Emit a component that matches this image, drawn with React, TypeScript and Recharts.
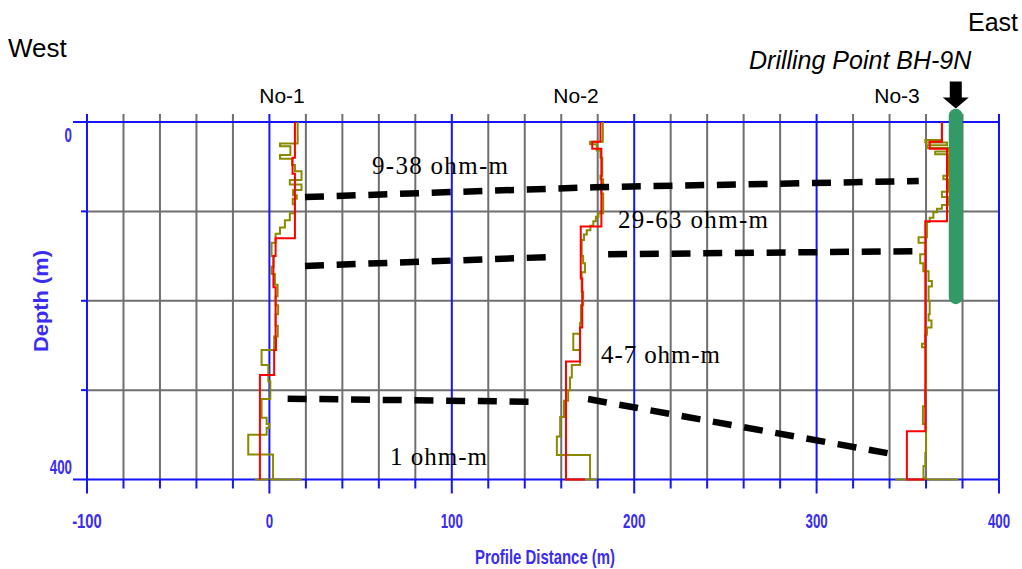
import React from 'react';
import { ComposedChart, Scatter, XAxis, YAxis, ReferenceLine, ReferenceDot } from 'recharts';

// ---------- axes / grid values ----------
const X_TICKS = [-100, -80, -60, -40, -20, 0, 20, 40, 60, 80, 100, 120, 140, 160, 180, 200, 220, 240, 260, 280, 300, 320, 340, 360, 380, 400];
const X_LABELED = [-100, 0, 100, 200, 300, 400];
const X_BLUE = [-100, 0, 100, 200, 300, 400];
const X_GRAY = [-80, -60, -40, -20, 20, 40, 60, 80, 120, 140, 160, 180, 220, 240, 260, 280, 320, 340, 360, 380];
const Y_TICKS = [0, 100, 200, 300, 400];
const Y_LABELED = [0, 400];
const Y_GRAY = [100, 200, 300];
const Y_BLUE = [0, 400];

// ---------- sounding profiles: [depth (m), plotted position (m)] ----------
const NO1_RED = [[0, 14], [40, 12.7], [58, 14], [130, 3.4], [150, 2.2], [185, 3.4], [242, 3.6], [255, 2.6], [283, -5.2]];
const NO1_RED_TAIL: number[][] = [];
const NO1_OLIVE = [[0, 15.5], [24, 5.8], [27, 11.5], [37, 5.8], [41, 12.4], [48, 14], [55, 17.6], [65, 11.2], [70, 17.6], [76, 13], [82, 15], [86, 12.8], [92, 14], [102, 11.2], [110, 8.5], [118, 5.8], [125, 3.4], [135, 1.2], [150, 2.3], [162, 1.2], [170, 3.0], [182, 4.5], [195, 3.4], [205, 4.8], [215, 3.4], [228, 4.6], [240, 2.6], [255, -4.3], [272, -0.6], [290, 0.5], [310, -4.3], [331, -1.5], [338, 0], [342, -1.5], [350, -11.6], [372, 2]];
const NO1_OLIVE_TAIL = [[-8, 400], [17.7, 400]];

const NO2_RED = [[0, 181.5], [22, 177], [30, 182], [117, 170.7], [175, 171.5], [230, 170.3], [268, 162.6]];
const NO2_RED_TAIL = [[173, 400]];
const NO2_OLIVE = [[0, 182.8], [22, 175.8], [25, 179.5], [32, 181.5], [40, 182.5], [60, 181.5], [64, 183], [75, 182], [80, 183], [102, 180.4], [106, 179], [111, 177.6], [116, 176], [121, 174], [126, 172.5], [132, 171.2], [150, 172], [158, 173], [168, 171.2], [190, 172], [205, 170.8], [225, 170.3], [237, 166.6], [255, 170.3], [272, 165.8], [286, 164.8], [300, 163.8], [312, 161.5], [330, 159.4], [352, 157.6], [372.5, 175.8]];
const NO2_OLIVE_TAIL = [[162.6, 400], [179.6, 400]];

const NO3_RED = [[0, 368.7], [22, 362], [30, 371.5], [111, 359.6], [346, 349.5]];
const NO3_RED_TAIL = [[359.2, 400]];
const NO3_OLIVE = [[0, 368.7], [20, 359.6], [23, 371.5], [26, 360.5], [29, 372.4], [33, 365], [36, 372.4], [60, 369.5], [64, 372.4], [78, 368.7], [84, 372], [93, 368.7], [97, 366], [101, 364], [107, 362], [112, 360.5], [129, 355.9], [135, 360], [143, 359.6], [148, 356.8], [158, 358.5], [167, 361.4], [178, 363.2], [184, 361.4], [200, 362], [215, 361.4], [222, 363], [230, 360.5], [238, 359.6], [248, 357.8], [252, 360], [270, 360], [300, 359.6], [318, 358.3], [338, 360], [370, 359.6], [385, 358.6], [398, 360]];
const NO3_OLIVE_TAIL = [[343.1, 400], [377.7, 400]];

// ---------- correlation (dashed) lines: [position, depth] ----------
const CORR_A = [[19.5, 84], [178, 73], [356, 66]];
const CORR_B1 = [[19.5, 161], [155, 151]];
const CORR_B2 = [[185.7, 148], [355.8, 144.5]];
const CORR_C1 = [[10, 309.6], [145, 313]];
const CORR_C2 = [[174.7, 310], [341.3, 371.4]];

// ---------- drilling point ----------
const BH_X = 376.3;
const BH_TOP = -7;
const BH_BOTTOM = 196;
const ARROW_DEPTH = -27.4;

// ---------- text ----------
const STATIONS = ['No-1', 'No-2', 'No-3'];
const LAYER_LABELS = ['9-38 ohm-m', '29-63 ohm-m', '4-7 ohm-m', '1 ohm-m'];

const BLUE = '#1414ff';
const AXIS_TEXT = '#3a2cf0';
const GRAY = '#6f6f6f';
const RED = '#ff0000';
const OLIVE = '#8a8a00';
const GREEN = '#339966';

const PLOT_LEFT = 87;
const PLOT_BOTTOM = 479.5;

function steps(bp: number[][], tail: number[][]) {
  const pts: { x: number; y: number }[] = [];
  for (let i = 0; i < bp.length; i++) {
    const [d, v] = bp[i];
    const dNext = i + 1 < bp.length ? bp[i + 1][0] : 400;
    pts.push({ x: v, y: d });
    pts.push({ x: v, y: dNext });
  }
  tail.forEach(([x, y]) => pts.push({ x, y }));
  return pts;
}
const seg = (arr: number[][]) => arr.map(([x, y]) => ({ x, y }));

const NoShape = () => <g />;

const XTick = (props: any) => {
  const { x, payload } = props;
  const v = payload.value as number;
  const major = v % 100 === 0;
  const label = String(v);
  return (
    <g>
      <line x1={x} x2={x} y1={PLOT_BOTTOM} y2={PLOT_BOTTOM + (major ? 14 : 9)} stroke={BLUE} strokeWidth={2} />
      {X_LABELED.includes(v) && (
        <text x={x} y={528} textAnchor="middle" fontFamily="'Liberation Sans', Arial, sans-serif" fontWeight="bold" fontSize={21} fill={AXIS_TEXT}
          textLength={label.length * 7.4} lengthAdjust="spacingAndGlyphs">{label}</text>
      )}
    </g>
  );
};

const YTick = (props: any) => {
  const { y, payload } = props;
  const v = payload.value as number;
  const long = Y_LABELED.includes(v);
  const label = String(v);
  return (
    <g>
      <line x1={PLOT_LEFT - (long ? 14 : 6)} x2={PLOT_LEFT} y1={y} y2={y} stroke={BLUE} strokeWidth={2} />
      {long && (
        <text x={72} y={v === 0 ? y + 20 : y - 6} textAnchor="end" fontFamily="'Liberation Sans', Arial, sans-serif" fontWeight="bold" fontSize={21} fill={AXIS_TEXT}
          textLength={label.length * 7.4} lengthAdjust="spacingAndGlyphs">{label}</text>
      )}
    </g>
  );
};

const ArrowShape = (p: any) => {
  const { cx, cy } = p;
  const pts = [
    [cx - 6, cy - 16], [cx + 6, cy - 16], [cx + 6, cy], [cx + 13, cy], [cx, cy + 11], [cx - 13, cy], [cx - 6, cy],
  ].map((q) => q.join(',')).join(' ');
  return <polygon points={pts} fill="#000" />;
};

export default function App() {
  const dashLine = { stroke: '#000', strokeWidth: 6.5, strokeDasharray: '19 12.7' };
  return (
    <div style={{ position: 'absolute', left: 0, top: 0, width: 1022, height: 569, background: '#fff' }}>
      <ComposedChart width={1022} height={569} margin={{ top: 122, right: 23, bottom: 29.5, left: 27 }}>
        <XAxis type="number" dataKey="x" domain={[-100, 400]} ticks={X_TICKS} interval={0} height={60}
          axisLine={false} tickLine={false} tick={<XTick />} />
        <YAxis type="number" dataKey="y" domain={[0, 400]} reversed ticks={Y_TICKS} interval={0} width={60}
          axisLine={false} tickLine={false} tick={<YTick />} />
        {X_GRAY.map((v) => (
          <ReferenceLine key={'xg' + v} segment={[{ x: v, y: -9 }, { x: v, y: 400 }]} stroke={GRAY} strokeWidth={2} ifOverflow="visible" />
        ))}
        {Y_GRAY.map((v) => (
          <ReferenceLine key={'yg' + v} segment={[{ x: -100, y: v }, { x: 400, y: v }]} stroke={GRAY} strokeWidth={2} ifOverflow="visible" />
        ))}
        {X_BLUE.map((v) => (
          <ReferenceLine key={'xb' + v} segment={[{ x: v, y: -9 }, { x: v, y: 400 }]} stroke={BLUE} strokeWidth={2} ifOverflow="visible" />
        ))}
        {Y_BLUE.map((v) => (
          <ReferenceLine key={'yb' + v} segment={[{ x: -100, y: v }, { x: 400, y: v }]} stroke={BLUE} strokeWidth={2} ifOverflow="visible" />
        ))}

        <Scatter data={steps(NO1_OLIVE, NO1_OLIVE_TAIL)} line={{ stroke: OLIVE, strokeWidth: 2 }} lineType="joint" shape={NoShape} isAnimationActive={false} />
        <Scatter data={steps(NO2_OLIVE, NO2_OLIVE_TAIL)} line={{ stroke: OLIVE, strokeWidth: 2 }} lineType="joint" shape={NoShape} isAnimationActive={false} />
        <Scatter data={steps(NO3_OLIVE, NO3_OLIVE_TAIL)} line={{ stroke: OLIVE, strokeWidth: 2 }} lineType="joint" shape={NoShape} isAnimationActive={false} />
        <Scatter data={steps(NO1_RED, NO1_RED_TAIL)} line={{ stroke: RED, strokeWidth: 2 }} lineType="joint" shape={NoShape} isAnimationActive={false} />
        <Scatter data={steps(NO2_RED, NO2_RED_TAIL)} line={{ stroke: RED, strokeWidth: 2 }} lineType="joint" shape={NoShape} isAnimationActive={false} />
        <Scatter data={steps(NO3_RED, NO3_RED_TAIL)} line={{ stroke: RED, strokeWidth: 2 }} lineType="joint" shape={NoShape} isAnimationActive={false} />

        <Scatter data={seg(CORR_A)} line={dashLine} lineType="joint" shape={NoShape} isAnimationActive={false} />
        <Scatter data={seg(CORR_B1)} line={dashLine} lineType="joint" shape={NoShape} isAnimationActive={false} />
        <Scatter data={seg(CORR_B2)} line={dashLine} lineType="joint" shape={NoShape} isAnimationActive={false} />
        <Scatter data={seg(CORR_C1)} line={dashLine} lineType="joint" shape={NoShape} isAnimationActive={false} />
        <Scatter data={seg(CORR_C2)} line={dashLine} lineType="joint" shape={NoShape} isAnimationActive={false} />

        <ReferenceLine segment={[{ x: BH_X, y: BH_TOP }, { x: BH_X, y: BH_BOTTOM }]} stroke={GREEN} strokeWidth={14} strokeLinecap="round" ifOverflow="visible" />
        <ReferenceDot x={BH_X} y={ARROW_DEPTH} r={1} shape={ArrowShape} ifOverflow="visible" />
      </ComposedChart>

      <svg width={1022} height={569} style={{ position: 'absolute', left: 0, top: 0, pointerEvents: 'none' }}>
        <g fontFamily="'Liberation Sans', Arial, sans-serif" fill="#000">
          <text x={8} y={57} fontSize={26}>West</text>
          <text x={968} y={31} fontSize={25}>East</text>
          <text x={749} y={69} fontSize={25} fontStyle="italic">Drilling Point BH-9N</text>
          <text x={282} y={103} fontSize={21} textAnchor="middle">{STATIONS[0]}</text>
          <text x={576} y={103} fontSize={21} textAnchor="middle">{STATIONS[1]}</text>
          <text x={897} y={103} fontSize={21} textAnchor="middle">{STATIONS[2]}</text>
        </g>
        <g fontFamily="'Liberation Serif', 'Times New Roman', serif" fill="#000" fontSize={25}>
          <text x={372} y={174} textLength={136} lengthAdjust="spacing">{LAYER_LABELS[0]}</text>
          <text x={618} y={228} textLength={150} lengthAdjust="spacing">{LAYER_LABELS[1]}</text>
          <text x={601} y={363} textLength={119} lengthAdjust="spacing">{LAYER_LABELS[2]}</text>
          <text x={390} y={465} textLength={97} lengthAdjust="spacing">{LAYER_LABELS[3]}</text>
        </g>
        <g fontFamily="'Liberation Sans', Arial, sans-serif" fontWeight="bold" fill={AXIS_TEXT} fontSize={21}>
          <text x={545} y={564} textAnchor="middle" textLength={140} lengthAdjust="spacingAndGlyphs">Profile Distance (m)</text>
          <text x={0} y={0} textAnchor="middle" textLength={102} lengthAdjust="spacingAndGlyphs" transform="translate(48,301) rotate(-90)">Depth (m)</text>
        </g>
      </svg>
    </div>
  );
}
